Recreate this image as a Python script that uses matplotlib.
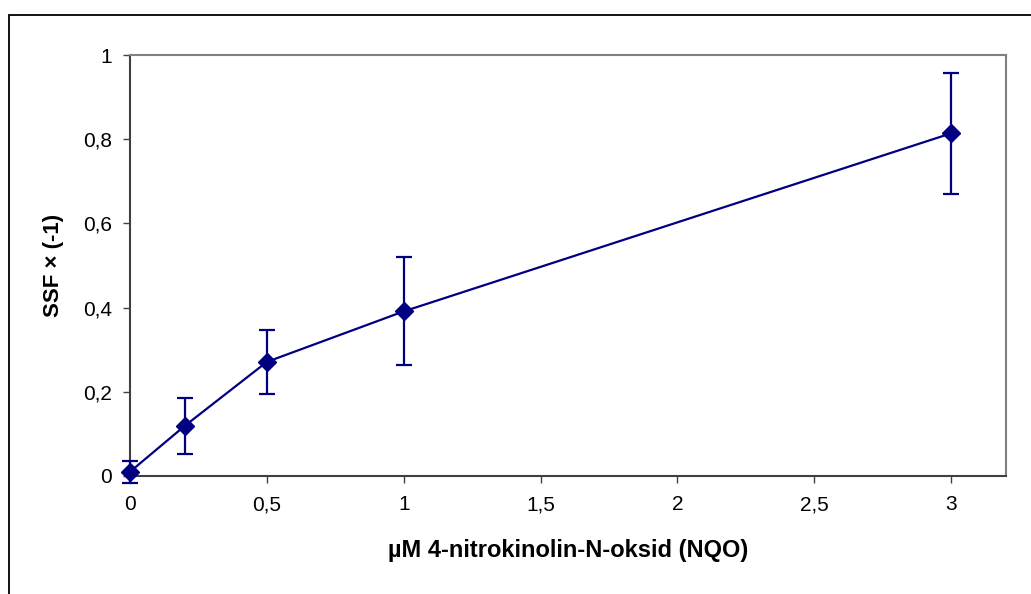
import numpy as np
import matplotlib
matplotlib.use("Agg")
import matplotlib.pyplot as plt
from matplotlib.patches import Rectangle
from matplotlib.ticker import FuncFormatter

plt.rcParams['font.family'] = ['Liberation Sans', 'DejaVu Sans']

# data
conc     = [0, 0.2, 0.5, 1, 3]
ssf      = [0.010, 0.119, 0.271, 0.391, 0.814]
ssf_err  = [0.026, 0.067, 0.076, 0.128, 0.143]
x_ticks  = [0, 0.5, 1, 1.5, 2, 2.5, 3]
y_ticks  = [0, 0.2, 0.4, 0.6, 0.8, 1]

NAVY = '#000080'

fig = plt.figure(figsize=(10.31, 5.94), dpi=100)
ax = fig.add_axes([0.1261, 0.1987, 0.8496, 0.7087])

# outer chart frame (clipped on right/bottom like the original)
fig.patches.append(Rectangle((9 / 1031, -0.05), 1.2, 1 - 15 / 594 + 0.05,
                             transform=fig.transFigure, fill=False,
                             edgecolor='black', linewidth=1.3))

ax.errorbar(conc, ssf, yerr=ssf_err, color=NAVY, linewidth=1.6,
            marker='D', markersize=9, capsize=5.8, capthick=1.6,
            elinewidth=1.6, clip_on=False, zorder=3)

ax.set_xlim(0, 3.2)
ax.set_ylim(0, 1)
ax.set_xticks(x_ticks)
ax.set_yticks(y_ticks)

comma = FuncFormatter(lambda v, p: f'{v:g}'.replace('.', ','))
ax.xaxis.set_major_formatter(comma)
ax.yaxis.set_major_formatter(comma)

ax.tick_params(axis='both', direction='out', length=5, width=1,
               color='#404040', labelsize=15)
ax.tick_params(axis='x', pad=9)
ax.tick_params(axis='y', pad=8)

for side in ['left', 'bottom']:
    ax.spines[side].set_color('#404040')
    ax.spines[side].set_linewidth(1.5)
for side in ['top', 'right']:
    ax.spines[side].set_color('#808080')
    ax.spines[side].set_linewidth(1.5)

ax.set_xlabel('µM 4-nitrokinolin-N-oksid (NQO)', fontsize=17,
              fontweight='bold', labelpad=18)
ax.set_ylabel('SSF × (-1)', fontsize=16, fontweight='bold', labelpad=14)

fig.savefig('out.png', dpi=100)
